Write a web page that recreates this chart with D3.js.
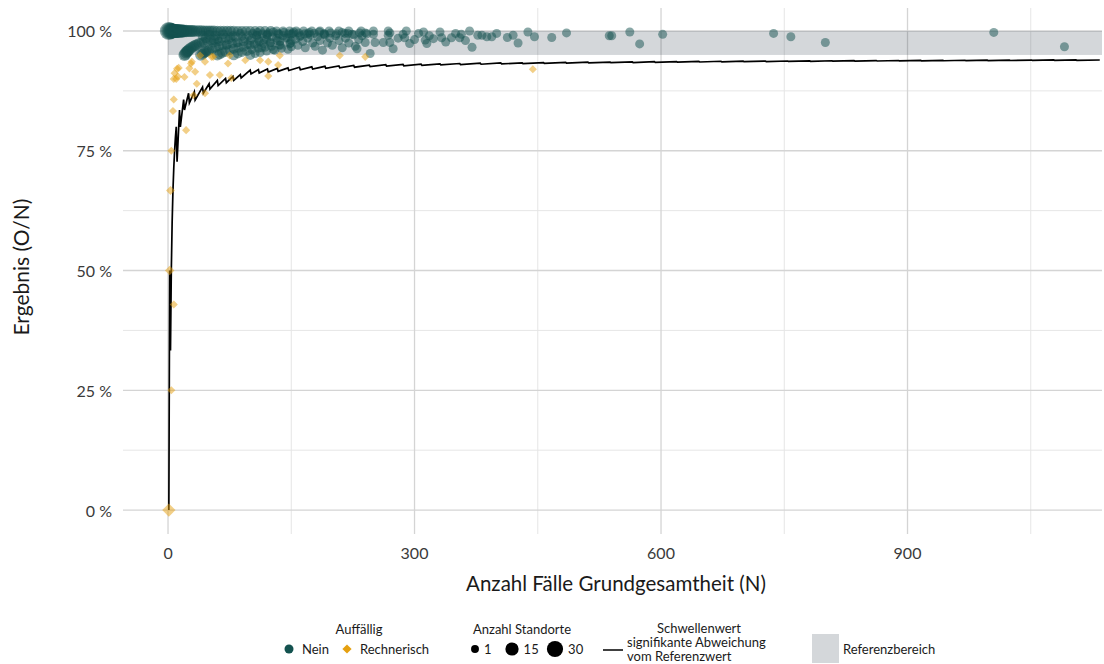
<!DOCTYPE html>
<html><head><meta charset="utf-8">
<script src="https://cdn.jsdelivr.net/npm/d3@7"></script>
<style>body{margin:0;background:#fff} svg{display:block;font-family:Lato,"Open Sans",sans-serif}</style>
</head><body><svg id="c" width="1104" height="664"></svg>
<script>
// ---------- data ----------
const xTicks = [0, 300, 600, 900];
const xMinor = [150, 450, 750, 1050];
const yTicks = [0, 0.25, 0.5, 0.75, 1];
const yMinor = [0.125, 0.375, 0.625, 0.875];
const yTickLabels = ["0 %", "25 %", "50 %", "75 %", "100 %"];
const refRange = [0.95, 1];
const sizeLegend = [1, 15, 30];
const groupLabels = ["Nein", "Rechnerisch"];

// Schwellenwert (N, value)
const threshold = [[1,0],[2,0.5],[3,0.333],[4,0.5],[5,0.6],[6,0.667],[7,0.714],[8,0.75],[9,0.778],[10,0.8],[11,0.727],
[14,0.835],[15,0.80],[19,0.857],[20,0.835],[25,0.87],[26,0.85],[32,0.873],[33,0.856],[42,0.883],[43,0.87],
[50,0.89],[51,0.879],[60,0.897],[61,0.886],[70,0.901],[71,0.892],[79,0.905],[80,0.897],[88,0.909],[89,0.902],
[100,0.9182],[101,0.9102],[110,0.9194],[111,0.9122],[121,0.9207],[122,0.9141],[133,0.9219],[134,0.9159],
[146,0.9230],[147,0.9176],[160,0.9242],[161,0.9192],[175,0.9252],[176,0.9206],[191,0.9262],[192,0.9220],
[208,0.9270],[209,0.9232],[226,0.9280],[227,0.9244],[245,0.9287],[246,0.9255],[265,0.9295],[266,0.9265],
[286,0.9302],[287,0.9274],[308,0.9309],[309,0.9283],[331,0.9315],[332,0.9291],[355,0.9321],[356,0.9299],
[380,0.9327],[381,0.9306],[405,0.9332],[406,0.9312],[431,0.9336],[432,0.9318],[457,0.9341],[458,0.9323],
[484,0.9345],[485,0.9329],[511,0.9349],[512,0.9333],[538,0.9352],[539,0.9338],[565,0.9356],[566,0.9342],
[592,0.9360],[593,0.9346],[619,0.9362],[620,0.9350],[646,0.9365],[647,0.9353],[673,0.9368],[674,0.9356],
[700,0.9370],[701,0.9359],[727,0.9372],[728,0.9362],[754,0.9374],[755,0.9364],[781,0.9377],[782,0.9367],
[808,0.9379],[809,0.9369],[835,0.9381],[836,0.9371],[862,0.9382],[863,0.9374],[889,0.9384],[890,0.9376],
[916,0.9386],[917,0.9378],[943,0.9387],[944,0.9379],[970,0.9389],[971,0.9381],[997,0.9390],[998,0.9382],
[1024,0.9392],[1025,0.9384],[1051,0.9393],[1052,0.9385],[1078,0.9395],[1079,0.9387],[1105,0.9396],[1106,0.9388],[1134,0.9394]];

// Auffällig: Nein  (N, value, Anzahl Standorte)
const pointsNein = [
[1,1,28],[2,1,22],[3,1,18],[4,1,16],[5,1,15],[6,1,14],[7,1,13],[8,1,12],[9,1,12],[10,1,11],[11,1,11],[12,1,10],[13,1,10],[14,1,9],[15,1,9],[16,1,8],[17,1,8],[18,1,8],[19,1,7],[20,1,7],[22,1,7],[24,1,6],[26,1,6],[28,1,6],[30,1,6],[32,1,5],[35,1,5],[38,1,5],[41,1,5],[44,1,4],[47,1,4],[50,1,4],[53,1,4],[56,1,4],[60,1,3],[64,1,3],[68,1,3],[72,1,3],[76,1,3],[80,1,3],[85,1,2],[90,1,2],[95,1,2],[100,1,2],[106,1,2],[112,1,2],[118,1,2],[125,1,2],[132,1,1],[140,1,1],[148,1,1],[156,1,1],[165,1,1],[175,1,1],[185,1,1],[196,1,1],[208,1,1],[220,1,1],[235,1,1],[250,1,1],[268,1,1],[290,1,1],
[20,0.95,6],[21,0.952,6],[22,0.955,5],[23,0.957,5],[24,0.958,5],[25,0.96,5],[27,0.963,5],[29,0.966,4],[31,0.968,4],[33,0.97,4],[35,0.971,4],[38,0.974,4],[41,0.976,3],[44,0.977,3],[48,0.979,3],[52,0.981,3],[56,0.982,3],[60,0.983,2],[65,0.985,2],[70,0.986,2],[76,0.987,2],[82,0.988,2],[90,0.989,1],[98,0.99,1],[108,0.991,1],[120,0.992,1],[135,0.993,1],[150,0.993,1],[170,0.994,1],[190,0.995,1],[215,0.995,1],[240,0.996,1],[270,0.996,1],
[40,0.95,5],[42,0.952,4],[44,0.955,4],[46,0.957,4],[48,0.958,3],[50,0.96,3],[54,0.963,3],[58,0.966,3],[62,0.968,2],[66,0.97,2],[72,0.972,2],[78,0.974,2],[85,0.976,2],[92,0.978,2],[100,0.98,1],[110,0.982,1],[120,0.983,1],[132,0.985,1],[145,0.986,1],[160,0.988,1],
[60,0.95,4],[63,0.952,3],[66,0.955,3],[70,0.957,3],[75,0.96,2],[80,0.963,2],[86,0.965,2],[92,0.967,2],[100,0.97,1],[108,0.972,1],[116,0.974,1],[125,0.976,1],[136,0.978,1],[150,0.98,1],
[80,0.95,3],[85,0.953,2],[90,0.956,2],[96,0.958,2],[102,0.961,1],[110,0.964,1],[118,0.966,1],[126,0.968,1],[136,0.971,1],[148,0.973,1],
[100,0.95,2],[106,0.953,1],[112,0.955,1],[120,0.958,1],[128,0.961,1],[138,0.964,1],[150,0.967,1],
[42,0.99,2],[46,0.985,2],[50,0.992,2],[55,0.975,1],[58,0.99,2],[62,0.978,1],[67,0.993,2],[71,0.97,1],[74,0.982,1],[79,0.99,1],[83,0.975,1],[88,0.995,1],[93,0.984,1],[97,0.972,1],
[102,0.985,1],[105,0.972,1],[108,0.99,1],[111,0.978,1],[114,0.965,1],[117,0.982,1],[121,0.992,1],[124,0.975,1],[127,0.988,1],[130,0.96,1],[133,0.98,1],[137,0.97,1],[140,0.99,1],[143,0.985,1],[146,0.962,1],[149,0.975,1],[152,0.995,1],[155,0.983,1],[158,0.97,1],[161,0.99,1],[164,0.978,1],[167,0.965,1],[170,0.985,1],[173,0.992,1],[176,0.975,1],[179,0.968,1],[182,0.988,1],[185,0.98,1],[188,0.96,1],[191,0.992,1],[194,0.975,1],[197,0.985,1],[200,0.97,1],[204,0.99,1],[208,0.98,1],[212,0.965,1],[216,0.985,1],[220,0.975,1],[224,0.993,1],[228,0.968,1],[232,0.982,1],[236,0.99,1],[240,0.976,1],
[103,0.995,1],[109,0.997,1],[115,0.994,1],[122,0.996,1],[128,0.998,1],[134,0.995,1],[141,0.997,1],[147,0.994,1],[153,0.998,1],[159,0.996,1],[166,0.994,1],[172,0.997,1],[178,0.995,1],[184,0.998,1],[190,0.993,1],[198,0.996,1],[205,0.994,1],[212,0.997,1],[219,0.995,1],[226,0.992,1],[233,0.996,1],[242,0.994,1],
[230,0.963,1],[246,0.953,1],[250,0.993,1],[252,0.976,1],[262,0.976,1],[268,0.991,1],[270,0.976,1],[274,0.963,1],[280,0.985,1],[286,0.993,1],[288,0.986,1],[294,0.974,1],[300,0.982,1],[305,0.995,1],[311,0.998,1],[313,0.981,1],[315,0.974,1],[318,0.99,1],[323,0.984,1],[331,0.998,1],[333,0.986,1],[338,0.977,1],[345,0.986,1],[350,0.995,1],[355,0.986,1],[357,0.993,1],[362,0.98,1],[367,1,1],[370,0.966,1],[377,0.991,1],
[382,0.991,1],[388,0.988,1],[394,0.988,1],[400,0.995,1],[413,0.9865,1],[420,0.991,1],[426,0.975,1],[438,0.998,1],[446,0.988,1],[467,0.9865,1],[485,0.996,1],[537,0.99,1],[540,0.99,1],[562,0.998,1],[574,0.973,1],[602,0.993,1],[737,0.995,1],[758,0.988,1],[800,0.976,1],[1005,0.997,1],[1091,0.967,1]
];

// Auffällig: Rechnerisch  (N, value, Anzahl Standorte)
const pointsRechnerisch = [
[1,0,14],[2,0.5,3],[3,0.667,2],[4,0.75,1],[4,0.25,1],[7,0.429,1],[6,0.833,1],[7,0.857,1],
[7,0.90,1],[8,0.912,1],[10,0.90,1],[11,0.921,1],[12,0.905,1],[13,0.923,1],
[20,0.904,1],[22,0.793,1],[26,0.922,1],[28,0.932,1],[29,0.936,1],[31,0.866,1],[33,0.915,1],[35,0.89,1],[39,0.949,1],[45,0.936,1],[45,0.87,1],[51,0.908,1],[53,0.946,1],[55,0.946,1],[63,0.908,1],[73,0.932,1],[75,0.949,1],[77,0.902,1],[94,0.939,1],[112,0.939,1],[122,0.936,1],[122,0.906,1],[134,0.929,1],[136,0.949,1],[209,0.949,1],[240,0.946,1],[444,0.92,1]
];

// ---------- drawing ----------
const svg = d3.select("#c");
const plot = {left: 123, right: 1102, top: 8, bottom: 534};
const x = d3.scaleLinear().domain([-54.8, 1136.7]).range([plot.left, plot.right]);
const y = d3.scaleLinear().domain([-0.05, 1.048]).range([plot.bottom, plot.top]);
const r = d3.scaleSqrt().domain([1, 30]).range([4.5, 9.2]);
const green = "#13524f", gold = "#e5a010";
const bandColor = "rgba(40,55,70,0.2)";

const g = svg.append("g");
// grid
g.selectAll(".ymin").data(yMinor).join("line").attr("x1", plot.left).attr("x2", plot.right)
  .attr("y1", d => y(d)).attr("y2", d => y(d)).attr("stroke", "#e6e6e6").attr("stroke-width", 1);
g.selectAll(".xmin").data(xMinor).join("line").attr("y1", plot.top).attr("y2", plot.bottom)
  .attr("x1", d => x(d)).attr("x2", d => x(d)).attr("stroke", "#e6e6e6").attr("stroke-width", 1);
g.selectAll(".ymaj").data(yTicks).join("line").attr("x1", plot.left).attr("x2", plot.right)
  .attr("y1", d => y(d)).attr("y2", d => y(d)).attr("stroke", "#d4d4d4").attr("stroke-width", 1.3);
g.selectAll(".xmaj").data(xTicks).join("line").attr("y1", plot.top).attr("y2", plot.bottom)
  .attr("x1", d => x(d)).attr("x2", d => x(d)).attr("stroke", "#d4d4d4").attr("stroke-width", 1.3);

// reference band
g.append("rect").attr("x", x(0)).attr("width", plot.right - x(0))
  .attr("y", y(refRange[1])).attr("height", y(refRange[0]) - y(refRange[1])).attr("fill", bandColor);

// threshold line
g.append("path").datum(threshold)
  .attr("d", d3.line().x(d => x(d[0])).y(d => y(d[1])))
  .attr("fill", "none").attr("stroke", "#000").attr("stroke-width", 1.7).attr("stroke-linejoin", "miter");

// points
g.selectAll(".pn").data(pointsNein).join("circle")
  .attr("cx", d => x(d[0])).attr("cy", d => y(d[1])).attr("r", d => r(d[2]))
  .attr("fill", green).attr("fill-opacity", 0.5);
const diamond = (cx, cy, s) => `M${cx},${cy - s}L${cx + s},${cy}L${cx},${cy + s}L${cx - s},${cy}Z`;
g.selectAll(".pr").data(pointsRechnerisch).join("path")
  .attr("d", d => diamond(x(d[0]), y(d[1]), r(d[2]) * 0.9))
  .attr("fill", gold).attr("fill-opacity", 0.5);

// axes labels
const tickColor = "#3a3a3a";
svg.selectAll(".yl").data(yTicks).join("text").attr("x", 112).attr("y", d => y(d))
  .attr("text-anchor", "end").attr("dominant-baseline", "central")
  .attr("font-size", 16).attr("fill", tickColor).text((d, i) => yTickLabels[i]);
svg.selectAll(".xl").data(xTicks).join("text").attr("x", d => x(d)).attr("y", 559)
  .attr("text-anchor", "middle").attr("font-size", 16).attr("fill", tickColor).text(d => d);
svg.append("text").attr("x", 616).attr("y", 591).attr("text-anchor", "middle")
  .attr("font-size", 20.5).attr("fill", "#1a1a1a").text("Anzahl Fälle Grundgesamtheit (N)");
svg.append("text").attr("transform", "translate(29,267) rotate(-90)").attr("text-anchor", "middle")
  .attr("font-size", 21).attr("fill", "#1a1a1a").text("Ergebnis (O/N)");

// legend
const lg = svg.append("g").attr("font-size", 13).attr("fill", "#1a1a1a");
lg.append("text").attr("x", 359).attr("y", 634).attr("text-anchor", "middle").text("Auffällig");
lg.append("circle").attr("cx", 289).attr("cy", 649).attr("r", 4.5).attr("fill", green);
lg.append("text").attr("x", 302).attr("y", 653.5).text(groupLabels[0]);
lg.append("path").attr("d", diamond(347, 649, 4.6)).attr("fill", gold);
lg.append("text").attr("x", 360).attr("y", 653.5).text(groupLabels[1]);

lg.append("text").attr("x", 522).attr("y", 634).attr("text-anchor", "middle").text("Anzahl Standorte");
const sx = [475, 512, 555];
sizeLegend.forEach((s, i) => {
  lg.append("circle").attr("cx", sx[i]).attr("cy", 649).attr("r", r(s) * 0.88).attr("fill", "#000");
  lg.append("text").attr("x", sx[i] + r(s) * 0.88 + 5).attr("y", 653.5).text(s);
});

lg.append("text").attr("x", 699).attr("y", 633).attr("text-anchor", "middle").text("Schwellenwert");
lg.append("line").attr("x1", 603).attr("x2", 623).attr("y1", 650).attr("y2", 650).attr("stroke", "#000").attr("stroke-width", 1.5);
lg.append("text").attr("x", 627).attr("y", 647).text("signifikante Abweichung");
lg.append("text").attr("x", 627).attr("y", 661).text("vom Referenzwert");

lg.append("rect").attr("x", 812).attr("y", 634).attr("width", 27).attr("height", 29).attr("fill", bandColor);
lg.append("text").attr("x", 843).attr("y", 653.5).text("Referenzbereich");
</script></body></html>
